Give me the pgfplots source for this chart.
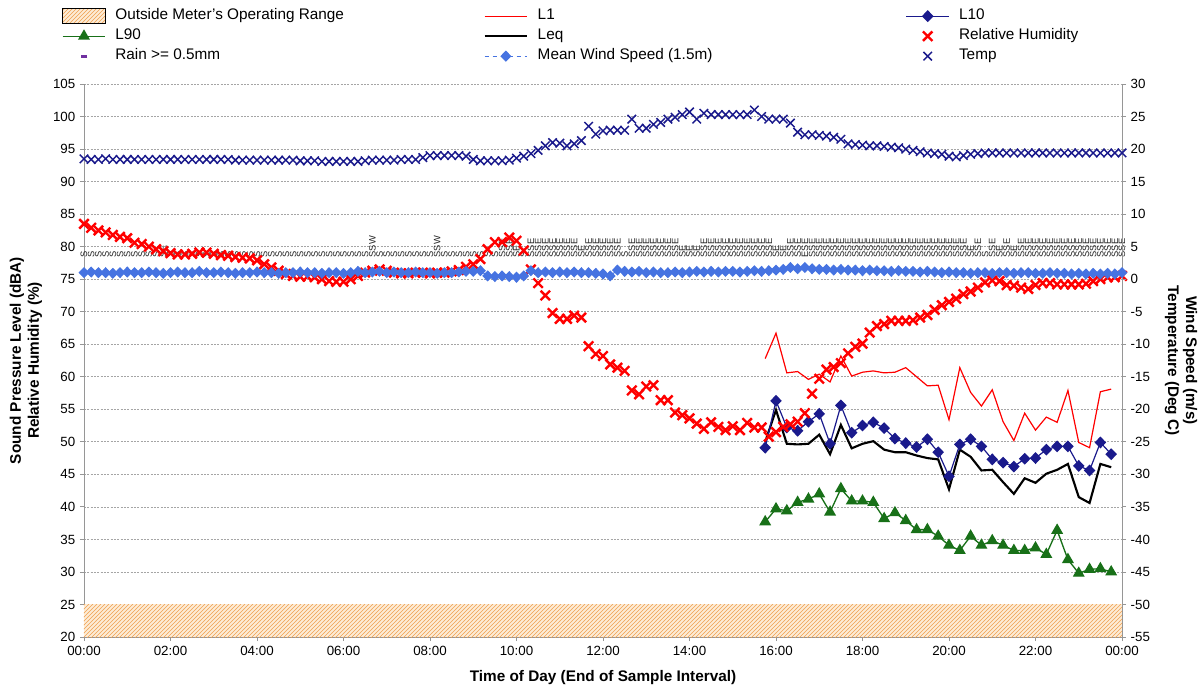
\documentclass[border=0pt]{standalone}
\usepackage{pgfplots}
\pgfplotsset{compat=1.18}
\usepackage{pgfplotstable}
\usepackage{fontspec}
\setmainfont{Liberation Sans}
\usetikzlibrary{patterns}

\definecolor{lnavy}{RGB}{26,26,140}
\definecolor{lgreen}{RGB}{24,112,24}
\definecolor{lred}{RGB}{255,0,0}
\definecolor{wblue}{RGB}{70,115,225}
\definecolor{hatchc}{RGB}{240,160,80}
\definecolor{hatchbg}{RGB}{253,236,214}
\definecolor{rainc}{RGB}{112,48,160}
\definecolor{gridc}{RGB}{165,165,165}
\definecolor{axc}{RGB}{150,150,150}

\pgfplotsset{
  mylinelegend/.style={legend image code/.code={\draw[mark repeat=2,mark phase=2,##1] plot coordinates {(0pt,0pt) (16pt,0pt) (32pt,0pt)};}},
  myarealegend/.style={legend image code/.code={\fill[##1] (0pt,-5pt) rectangle (32pt,6pt);}},
}

\pgfplotstableread{
t rh temp wind
0 83.5 18.5 1.0
10 82.9 18.4 1.1
20 82.5 18.4 1.0
30 82.2 18.5 1.0
40 81.8 18.4 0.9
50 81.5 18.4 1.0
60 81.3 18.4 1.1
70 80.6 18.4 1.0
80 80.4 18.4 1.0
90 80.0 18.4 1.1
100 79.6 18.4 1.0
110 79.3 18.4 0.9
120 79.0 18.4 1.0
130 78.8 18.4 1.1
140 78.8 18.4 1.0
150 78.9 18.4 1.0
160 79.1 18.4 1.2
170 79.1 18.4 1.0
180 78.9 18.4 1.0
190 78.7 18.4 1.1
200 78.6 18.4 1.0
210 78.4 18.3 0.9
220 78.3 18.3 1.0
230 78.2 18.3 1.0
240 77.9 18.3 1.1
250 77.3 18.3 1.0
260 76.8 18.3 1.0
270 76.3 18.3 0.9
280 75.8 18.3 1.0
290 75.5 18.3 1.0
300 75.4 18.2 1.1
310 75.4 18.2 1.0
320 75.3 18.2 1.0
330 75.0 18.1 0.9
340 74.7 18.1 1.0
350 74.6 18.1 1.0
360 74.6 18.1 0.9
370 75.0 18.1 1.0
380 75.5 18.1 1.2
390 76.0 18.2 1.0
400 76.3 18.3 1.1
410 76.5 18.3 1.2
420 76.3 18.3 1.0
430 76.0 18.3 1.1
440 75.9 18.4 1.0
450 75.9 18.4 1.0
460 76.0 18.4 1.1
470 76.0 18.7 1.0
480 75.9 19.0 1.0
490 76.0 19.0 0.9
500 76.0 19.0 1.0
510 76.2 19.0 1.0
520 76.4 19.0 1.1
530 76.9 18.9 1.2
540 77.3 18.4 1.2
550 78.1 18.2 1.3
560 79.6 18.2 0.5
570 80.7 18.2 0.4
580 80.7 18.2 0.5
590 81.4 18.3 0.4
600 80.9 18.6 0.3
610 79.4 18.9 0.5
620 76.5 19.3 1.3
630 74.4 19.8 1.0
640 72.5 20.5 1.1
650 69.8 21.0 1.0
660 68.9 20.9 1.1
670 68.9 20.5 1.0
680 69.4 20.8 1.1
690 69.1 21.3 1.0
700 64.7 23.5 1.0
710 63.5 22.3 0.9
720 63.2 22.8 0.8
730 61.9 22.9 0.5
740 61.4 22.9 1.4
750 60.9 22.9 1.2
760 57.9 24.6 1.1
770 57.3 23.2 1.2
780 58.5 23.2 1.0
790 58.7 23.8 1.1
800 56.4 24.1 1.0
810 56.4 24.6 1.0
820 54.5 24.9 1.1
830 54.1 25.3 1.0
840 53.6 25.7 1.1
850 52.8 24.6 1.2
860 52.0 25.5 1.1
870 53.0 25.3 1.2
880 52.3 25.3 1.1
890 51.8 25.3 1.2
900 52.4 25.3 1.2
910 51.8 25.3 1.1
920 52.9 25.3 1.2
930 52.2 26.0 1.3
940 52.2 25.0 1.2
950 50.8 24.6 1.3
960 51.5 24.6 1.4
970 52.3 24.6 1.5
980 52.7 24.0 1.8
990 53.1 22.6 1.6
1000 54.4 22.2 1.8
1010 57.4 22.2 1.6
1020 59.7 22.1 1.5
1030 61.1 22.0 1.5
1040 61.5 21.8 1.4
1050 62.1 21.5 1.5
1060 63.6 20.8 1.4
1070 64.6 20.7 1.4
1080 65.1 20.6 1.3
1090 66.8 20.5 1.4
1100 67.8 20.5 1.3
1110 68.1 20.4 1.3
1120 68.6 20.3 1.2
1130 68.6 20.2 1.3
1140 68.6 20.0 1.2
1150 68.7 19.8 1.2
1160 69.1 19.6 1.1
1170 69.5 19.4 1.2
1180 70.3 19.3 1.1
1190 71.0 19.2 1.0
1200 71.5 18.9 1.1
1210 72.0 18.8 1.0
1220 72.7 19.0 1.0
1230 73.1 19.2 0.9
1240 73.7 19.3 1.0
1250 74.5 19.4 1.0
1260 74.8 19.4 0.9
1270 74.7 19.4 1.0
1280 74.1 19.4 1.0
1290 74.0 19.4 0.9
1300 73.7 19.4 1.0
1310 73.5 19.4 1.0
1320 74.1 19.4 0.9
1330 74.4 19.4 0.9
1340 74.4 19.4 1.0
1350 74.2 19.4 0.9
1360 74.2 19.4 0.9
1370 74.2 19.4 0.8
1380 74.2 19.4 0.9
1390 74.3 19.4 0.8
1400 74.7 19.4 0.9
1410 75.0 19.4 0.8
1420 75.3 19.4 0.9
1430 75.3 19.4 0.8
1440 75.5 19.4 1.0
}\metdata

\pgfplotstableread{
t L1 L10 Leq L90
945 62.8 49.1 50.0 37.7
960 66.7 56.3 54.9 39.7
975 60.6 52.2 49.7 39.4
990 60.8 51.7 49.6 40.7
1005 59.6 53.1 49.7 41.2
1020 60.4 54.3 51.1 42.0
1035 59.2 49.7 48.1 39.2
1050 63.2 55.6 52.6 42.8
1065 60.1 51.4 49.0 40.9
1080 60.7 52.5 49.7 40.9
1095 60.9 53.0 50.1 40.7
1110 60.6 52.1 48.8 38.2
1125 60.7 50.5 48.4 39.1
1140 61.4 49.8 48.4 37.9
1155 60.0 49.2 47.9 36.5
1170 58.6 50.4 47.5 36.5
1185 58.7 48.4 47.3 35.5
1200 53.4 44.7 42.7 34.1
1215 61.4 49.6 48.8 33.3
1230 57.6 50.4 47.7 35.5
1245 55.5 49.3 45.6 34.1
1260 58.0 47.3 45.7 34.8
1275 53.1 46.8 43.8 34.1
1290 50.2 46.2 42.0 33.3
1305 54.4 47.4 44.4 33.3
1320 51.8 47.5 43.7 33.7
1335 53.8 48.8 45.1 32.7
1350 53.0 49.3 45.7 36.4
1365 57.9 49.3 46.6 31.9
1380 49.9 46.3 41.5 29.8
1395 49.1 45.6 40.6 30.4
1410 57.7 49.9 46.6 30.5
1425 58.1 48.1 46.1 30.0
}\noise

\pgfplotstableread{
t y d
0 78.3 S
10 78.3 S
20 78.3 S
30 78.3 S
40 78.3 S
50 78.3 S
60 78.3 S
70 78.3 S
80 78.3 S
90 78.3 S
100 78.3 S
110 78.3 SE
120 78.3 S
130 78.3 S
140 78.3 S
150 78.3 S
160 78.3 S
170 78.3 S
180 78.3 S
190 78.3 S
200 78.3 S
210 78.3 S
220 78.3 S
230 78.3 S
240 78.3 S
250 78.3 S
260 78.3 S
270 78.3 S
280 78.3 S
290 78.3 S
300 78.3 S
310 78.3 S
320 78.3 S
330 78.3 S
340 78.3 S
350 78.3 S
360 78.3 S
370 78.3 S
380 78.3 S
390 78.3 S
400 78.3 SSW
410 78.3 S
420 78.3 S
430 78.3 S
440 78.3 S
450 78.3 S
460 78.3 S
470 78.3 S
480 78.3 S
490 78.3 SSW
500 78.3 S
510 78.3 S
520 78.3 S
530 78.3 S
540 78.3 S
550 78.3 S
560 78.3 S
570 78.3 S
580 78.3 SSE
590 78.3 SSE
600 78.3 SE
610 78.3 S
620 78.3 SSE
630 78.3 SSE
640 78.3 SSE
650 78.3 SSE
660 78.3 SSE
670 78.3 SSE
680 78.3 SSE
690 78.3 SE
700 78.3 SSE
710 78.3 SSE
720 78.3 SSE
730 78.3 SSE
740 78.3 SSE
750 78.3 S
760 78.3 SSE
770 78.3 SSE
780 78.3 SSE
790 78.3 SSE
800 78.3 SSE
810 78.3 SSE
820 78.3 SSE
830 78.3 SE
840 78.3 SE
850 78.3 SE
860 78.3 SSE
870 78.3 SSE
880 78.3 SSE
890 78.3 SSE
900 78.3 SSE
910 78.3 SSE
920 78.3 SSE
930 78.3 SSE
940 78.3 SSE
950 78.3 SSE
960 78.3 SE
970 78.3 SE
980 78.3 SSE
990 78.3 SSE
1000 78.3 ESE
1010 78.3 SSE
1020 78.3 SSE
1030 78.3 SSE
1040 78.3 SSE
1050 78.3 SSE
1060 78.3 SSE
1070 78.3 SSE
1080 78.3 SSE
1090 78.3 SSE
1100 78.3 SSE
1110 78.3 SSE
1120 78.3 SSE
1130 78.3 SSE
1140 78.3 SSE
1150 78.3 SSE
1160 78.3 SSE
1170 78.3 SSE
1180 78.3 SSE
1190 78.3 SSE
1200 78.3 SSE
1210 78.3 SSE
1220 78.3 SSE
1230 78.3 SE
1240 78.3 SSE
1250 78.3 S
1260 78.3 SSE
1270 78.3 SE
1280 78.3 SSE
1290 78.3 SE
1300 78.3 SSE
1310 78.3 SSE
1320 78.3 SSE
1330 78.3 SSE
1340 78.3 SSE
1350 78.3 SSE
1360 78.3 SSE
1370 78.3 SSE
1380 78.3 SSE
1390 78.3 SSE
1400 78.3 SSE
1410 78.3 SSE
1420 78.3 SSE
1430 78.3 SSE
1440 78.3 SSE
}\dirdata

\begin{document}
\begin{tikzpicture}
\begin{axis}[
  at={(0pt,0pt)}, anchor=south west,
  scale only axis, width=778.5pt, height=414.75pt,
  xmin=0, xmax=1440, ymin=20, ymax=105,
  xtick={0,120,...,1440},
  xticklabels={00:00,02:00,04:00,06:00,08:00,10:00,12:00,14:00,16:00,18:00,20:00,22:00,00:00},
  ytick={20,25,...,105},
  axis x line*=bottom, axis y line*=left,
  axis line style={draw=axc, line width=0.7pt, -},
  ymajorgrids, grid style={draw=gridc, dash pattern=on 1.5pt off 1pt, line width=0.5pt},
  tick style={draw=axc, line width=0.6pt}, tick align=outside, major tick length=3pt,
  tick label style={font=\fontsize{10}{12}\selectfont},
  /pgf/number format/assume math mode=true,
  xlabel={Time of Day (End of Sample Interval)},
  xlabel style={font=\bfseries\fontsize{11.5}{13}\selectfont, at={(axis description cs:0.5,-0.0741)}, anchor=center},
  ylabel={Sound Pressure Level (dBA)\\Relative Humidity (\%)},
  ylabel style={font=\bfseries\fontsize{11.5}{13.5}\selectfont, align=center, at={(axis description cs:-0.0559,0.5)}, anchor=center},
  legend columns=3,
  legend cell align=left,
  legend style={at={(axis description cs:-0.0212,1.1401)}, anchor=north west, draw=none, fill=none,
    inner sep=0pt, outer sep=0pt, font=\fontsize{11.5}{13}\selectfont, row sep=0.5pt, column sep=0pt,
    /tikz/every odd column/.append style={column sep=5pt},
    nodes={inner sep=2pt, text height=8pt, text depth=2.5pt}},
]
% legend entries
\addlegendimage{myarealegend, fill=hatchbg, postaction={pattern=north east lines, pattern color=hatchc}}
\addlegendentry{\makebox[274pt][l]{Outside Meter's Operating Range}}
\addlegendimage{mylinelegend, lred, line width=1pt}
\addlegendentry{\makebox[274pt][l]{L1}}
\addlegendimage{mylinelegend, lnavy, line width=1pt, mark=diamond*, mark size=3.8pt, mark options={xscale=1.3}}
\addlegendentry{L10}
\addlegendimage{mylinelegend, lgreen, line width=1pt, mark=triangle*, mark size=4.2pt}
\addlegendentry{\makebox[274pt][l]{L90}}
\addlegendimage{mylinelegend, black, line width=1.8pt}
\addlegendentry{\makebox[274pt][l]{Leq}}
\addlegendimage{mylinelegend, only marks, lred, mark=x, mark size=5pt, mark options={line width=1.8pt}}
\addlegendentry{Relative Humidity}
\addlegendimage{mylinelegend, only marks, rainc, mark=-, mark size=2.5pt, mark options={line width=2.4pt}}
\addlegendentry{\makebox[274pt][l]{Rain >= 0.5mm}}
\addlegendimage{mylinelegend, wblue, dashed, line width=0.9pt, mark=diamond*, mark size=3.6pt, mark options={solid, xscale=1.3}}
\addlegendentry{\makebox[274pt][l]{Mean Wind Speed (1.5m)}}
\addlegendimage{mylinelegend, only marks, lnavy, mark=x, mark size=4.5pt, mark options={line width=1.1pt}}
\addlegendentry{Temp}

% outside meter's range band
\addplot[draw=none, fill=hatchbg, postaction={pattern=north east lines, pattern color=hatchc}, forget plot]
  coordinates {(0,25) (1440,25)} \closedcycle;

\addplot[lred, line width=0.9pt, forget plot] table[x=t, y=L1] {\noise};
\addplot[black, line width=1.6pt, forget plot] table[x=t, y=Leq] {\noise};
\addplot[lnavy, line width=0.9pt, mark=diamond*, mark size=3.8pt, mark options={xscale=1.3}, forget plot] table[x=t, y=L10] {\noise};
\addplot[lgreen, line width=1pt, mark=triangle*, mark size=4.2pt, forget plot] table[x=t, y=L90] {\noise};

\addplot[draw=none, mark=none, forget plot, nodes near coords, point meta=explicit symbolic,
  nodes near coords style={rotate=90, anchor=west, inner sep=0pt, text=black!85, font=\fontsize{7}{7}\selectfont}]
  table[x=t, y=y, meta=d] {\dirdata};

\addplot[only marks, lred, mark=x, mark size=5pt, mark options={line width=1.8pt}, forget plot]
  table[x=t, y=rh] {\metdata};
\end{axis}

\begin{axis}[
  at={(0pt,0pt)}, anchor=south west,
  scale only axis, width=778.5pt, height=414.75pt,
  xmin=0, xmax=1440, ymin=-55, ymax=30,
  ytick={-55,-50,...,30},
  axis y line*=right, axis x line=none,
  axis line style={draw=axc, line width=0.7pt, -},
  tick style={draw=axc, line width=0.6pt}, tick align=outside, major tick length=3pt,
  tick label style={font=\fontsize{10}{12}\selectfont},
  /pgf/number format/assume math mode=true,
  ylabel={Wind Speed (m/s)\\Temperature (Deg C)},
  ylabel style={font=\bfseries\fontsize{11.5}{13.5}\selectfont, align=center, rotate=180, at={(axis description cs:1.0568,0.5)}, anchor=center},
]
\addplot[only marks, lnavy, mark=x, mark size=4.5pt, mark options={line width=1.1pt}] table[x=t, y=temp] {\metdata};
\addplot[wblue, dashed, line width=0.8pt, mark=diamond*, mark size=3.6pt, mark options={solid, xscale=1.3}] table[x=t, y=wind] {\metdata};
\end{axis}
\pgfresetboundingbox
\path[use as bounding box] (-63pt,-42pt) rectangle (840pt,477.75pt);
\end{tikzpicture}
\end{document}
